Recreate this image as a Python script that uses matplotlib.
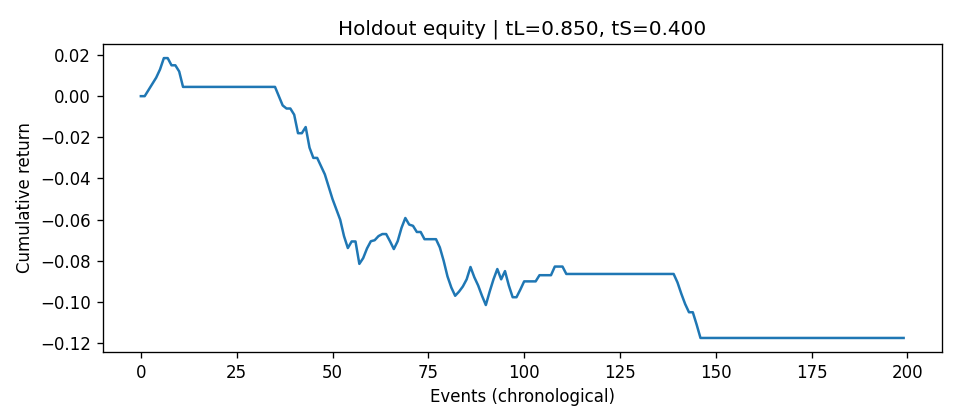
import matplotlib
matplotlib.use("Agg")
import matplotlib.pyplot as plt
import numpy as np

start = [0.0, 0.0, 0.003, 0.006, 0.009, 0.013, 0.0185, 0.0185, 0.015, 0.015, 0.012, 0.0045]
flat1 = [0.0045] * 24
drop1 = [0.0, -0.0045, -0.006, -0.006, -0.009, -0.018, -0.018, -0.015, -0.025, -0.030,
         -0.030, -0.034, -0.038, -0.044]
middle = [-0.050, -0.055, -0.060, -0.068, -0.0738, -0.0706, -0.0706, -0.0815, -0.0787, -0.074,
          -0.0705, -0.070, -0.068, -0.067, -0.067, -0.0705, -0.0743, -0.0705, -0.064, -0.0592,
          -0.0624, -0.063, -0.066, -0.066, -0.0695, -0.0695, -0.0695, -0.0695, -0.0735, -0.080,
          -0.0876, -0.093, -0.097, -0.095, -0.0925, -0.089, -0.083, -0.088, -0.092, -0.097,
          -0.1015, -0.095, -0.089, -0.084, -0.089, -0.085, -0.092, -0.0977, -0.0977, -0.094,
          -0.090, -0.090, -0.090, -0.090, -0.087, -0.087, -0.087, -0.087, -0.0828, -0.0828,
          -0.0828, -0.0864]
flat2 = [-0.0864] * 28
drop2 = [-0.0905, -0.096, -0.101, -0.105, -0.105, -0.111]
flat3 = [-0.1175] * 54

equity = np.array(start + flat1 + drop1 + middle + flat2 + drop2 + flat3)
events = np.arange(len(equity))

fig, ax = plt.subplots(figsize=(8, 3.5), dpi=120)
ax.plot(events, equity, color="#1f77b4", linewidth=1.5)
ax.set_title("Holdout equity | tL=0.850, tS=0.400")
ax.set_xlabel("Events (chronological)")
ax.set_ylabel("Cumulative return")
fig.subplots_adjust(left=0.107, right=0.981, top=0.895, bottom=0.162)
fig.savefig("out.png")
